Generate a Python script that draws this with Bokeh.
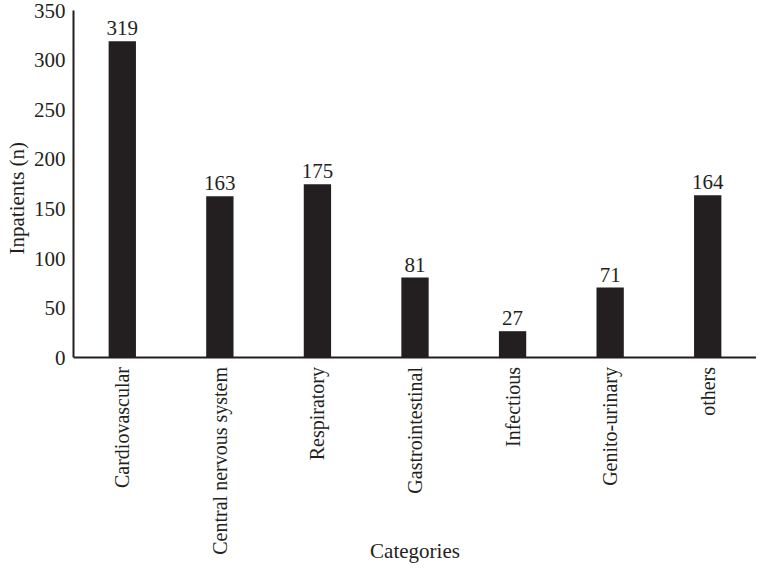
from bokeh.plotting import figure
from bokeh.models import ColumnDataSource, FactorRange, Range1d, FixedTicker, Title
from bokeh.core.properties import value
from bokeh.embed import file_html
from bokeh.resources import INLINE
import math

categories = ["Cardiovascular", "Central nervous system", "Respiratory",
              "Gastrointestinal", "Infectious", "Genito-urinary", "others"]
inpatients = [319, 163, 175, 81, 27, 71, 164]
y_ticks = [0, 50, 100, 150, 200, 250, 300, 350]
y_max = 350
# the frame runs below zero so that the category labels can sit inside it
y_floor = -208

FONT = "Liberation Serif"
INK = "#231f20"

src = ColumnDataSource(dict(cat=categories, n=inpatients,
                            lbl=[str(v) for v in inpatients],
                            zero=[0] * len(categories)))

p = figure(width=756, height=564, output_backend="svg", toolbar_location=None,
           x_range=FactorRange(*categories), y_range=Range1d(y_floor, y_max),
           x_axis_location=None,
           min_border_left=0, min_border_right=0, min_border_top=10,
           min_border_bottom=0)

p.vbar(x="cat", top="n", width=0.28, source=src, fill_color=INK, line_color=None)
p.text(x="cat", y="n", text="lbl", source=src, text_align="center",
       text_baseline="bottom", y_offset=-6, text_font=value(FONT),
       text_font_size="21px", text_color=INK)

# baseline (x axis line)
p.hspan(y=[0], line_color=INK, line_width=2)

# category tick labels, rotated
p.text(x="cat", y="zero", text="cat", source=src, angle=math.pi / 2,
       text_align="right", text_baseline="middle", y_offset=9,
       text_font=value(FONT), text_font_size="20px", text_color=INK)

# x axis title
p.text(x=[len(categories) / 2], y=[0], text=["Categories"], text_align="center",
       text_baseline="middle", y_offset=193, text_font=value(FONT),
       text_font_size="21px", text_color=INK)

p.outline_line_color = None
p.grid.visible = False

ax = p.yaxis[0]
ax.bounds = (0, y_max)
ax.ticker = FixedTicker(ticks=y_ticks)
ax.axis_line_color = INK
ax.axis_line_width = 2
ax.major_tick_line_color = None
ax.minor_tick_line_color = None
ax.major_tick_out = 0
ax.major_tick_in = 0
ax.major_label_text_font = FONT
ax.major_label_text_font_size = "21px"
ax.major_label_text_color = INK
ax.major_label_standoff = 8

p.add_layout(Title(text="Inpatients (n)", align="left", offset=310,
                   text_font=FONT, text_font_size="21px",
                   text_font_style="normal", text_color=INK, standoff=4), "left")

open("out.html", "w").write(file_html(p, INLINE))
